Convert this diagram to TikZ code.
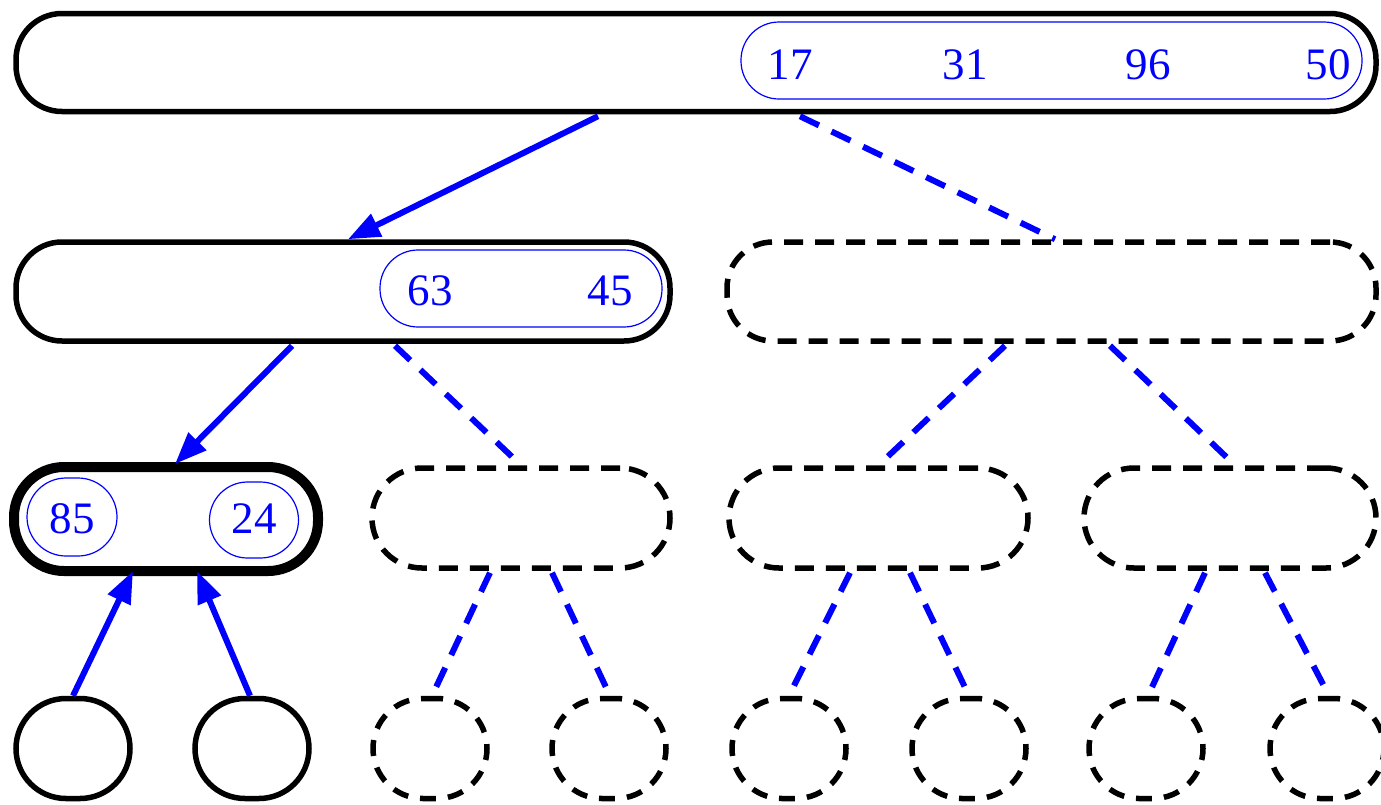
\documentclass[tikz,border=0pt]{standalone}
\usepackage{fontspec}
\setmainfont{Liberation Serif}
\usetikzlibrary{arrows.meta}
\begin{document}
\begin{tikzpicture}[x=1pt,y=-1pt,
  box/.style={draw=black,line width=5.5pt,rectangle,rounded corners=46pt,inner sep=0pt},
  solidbox/.style={box},
  dashbox/.style={box,dash pattern=on 19pt off 12pt},
  thickbox/.style={box,line width=10pt},
  leaf/.style={draw=black,line width=5.5pt,rectangle,rounded corners=50pt,inner sep=0pt,minimum width=114pt,minimum height=100pt},
  dashleaf/.style={leaf,dash pattern=on 16pt off 12pt},
  inner/.style={draw=blue,line width=1.2pt,rectangle,rounded corners=38pt,inner sep=0pt},
  num/.style={text=blue,inner sep=0pt,font=\fontsize{45}{50}\selectfont},
  tree/.style={draw=blue,line width=6pt,-{Triangle[length=32pt,width=24pt]}},
  ghost/.style={draw=blue,line width=6pt,dash pattern=on 21pt off 14pt}
]
\useasboundingbox (0,0) rectangle (1381,804);
% level 1
\node[solidbox,minimum width=1360pt,minimum height=98pt] (top) at (696,62.5) {};
\node[inner,minimum width=621pt,minimum height=77pt] (in1) at (1051.5,60.5) {};
\node[num] (n17) at (790,65) {17};
\node[num] (n31) at (965,65) {31};
\node[num] (n96) at (1148,65) {96};
\node[num] (n50) at (1328,65) {50};
% level 2
\node[solidbox,minimum width=654pt,minimum height=99pt] (la) at (343,291.5) {};
\node[inner,minimum width=282pt,minimum height=77pt] (in2) at (521,288.5) {};
\node[num] (n63) at (430,291) {63};
\node[num] (n45) at (610,291) {45};
\node[dashbox,minimum width=649pt,minimum height=99pt] (lb) at (1051.5,291.5) {};
% level 3
\node[thickbox,minimum width=304pt,minimum height=104pt,rounded corners=50pt] (ma) at (166,519) {};
\node[inner,minimum width=90pt,minimum height=78pt,rounded corners=39pt] (e85) at (72,517) {};
\node[inner,minimum width=89pt,minimum height=76pt,rounded corners=38pt] (e24) at (254,520) {};
\node[num] (n85) at (72,519) {85};
\node[num] (n24) at (254,519) {24};
\node[dashbox,minimum width=298pt,minimum height=100pt,rounded corners=50pt] (mb) at (521,518) {};
\node[dashbox,minimum width=299pt,minimum height=100pt,rounded corners=50pt] (mc) at (878.5,518) {};
\node[dashbox,minimum width=292pt,minimum height=100pt,rounded corners=50pt] (md) at (1230,518) {};
% level 4
\node[leaf] (c1) at (73,748.5) {};
\node[leaf] (c2) at (252,748.5) {};
\node[dashleaf] (c3) at (430,748.5) {};
\node[dashleaf] (c4) at (609,748.5) {};
\node[dashleaf] (c5) at (789,748.5) {};
\node[dashleaf] (c6) at (969,748.5) {};
\node[dashleaf] (c7) at (1146,748.5) {};
\node[dashleaf] (c8) at (1327,748.5) {};
% edges
\draw[tree] ([xshift=-98pt,yshift=-2pt]top.south) -- ([xshift=5pt]la.north);
\draw[ghost] ([xshift=104pt,yshift=-2pt]top.south) -- ([xshift=3.5pt]lb.north);
\draw[tree] ([xshift=-51pt,yshift=-2pt]la.south) -- ([xshift=9pt,yshift=-2pt]ma.north);
\draw[ghost] ([xshift=52pt,yshift=-2pt]la.south) -- ([xshift=0pt]mb.north);
\draw[ghost] ([xshift=-46.5pt,yshift=-2pt]lb.south) -- ([xshift=0pt]mc.north);
\draw[ghost] ([xshift=58.5pt,yshift=-2pt]lb.south) -- ([xshift=5pt]md.north);
\draw[tree] (c1.north) -- ([xshift=-33pt,yshift=5pt]ma.south);
\draw[tree] ([xshift=-2pt]c2.north) -- ([xshift=31pt,yshift=5pt]ma.south);
\draw[ghost] ([xshift=-31pt,yshift=-2pt]mb.south) -- ([xshift=2pt]c3.north);
\draw[ghost] ([xshift=31pt,yshift=-2pt]mb.south) -- ([xshift=1pt]c4.north);
\draw[ghost] ([xshift=-28.5pt,yshift=-2pt]mc.south) -- (c5.north);
\draw[ghost] ([xshift=31.5pt,yshift=-2pt]mc.south) -- (c6.north);
\draw[ghost] ([xshift=-25pt,yshift=-2pt]md.south) -- ([xshift=2pt]c7.north);
\draw[ghost] ([xshift=35pt,yshift=-2pt]md.south) -- ([xshift=2pt]c8.north);
\end{tikzpicture}
\end{document}
